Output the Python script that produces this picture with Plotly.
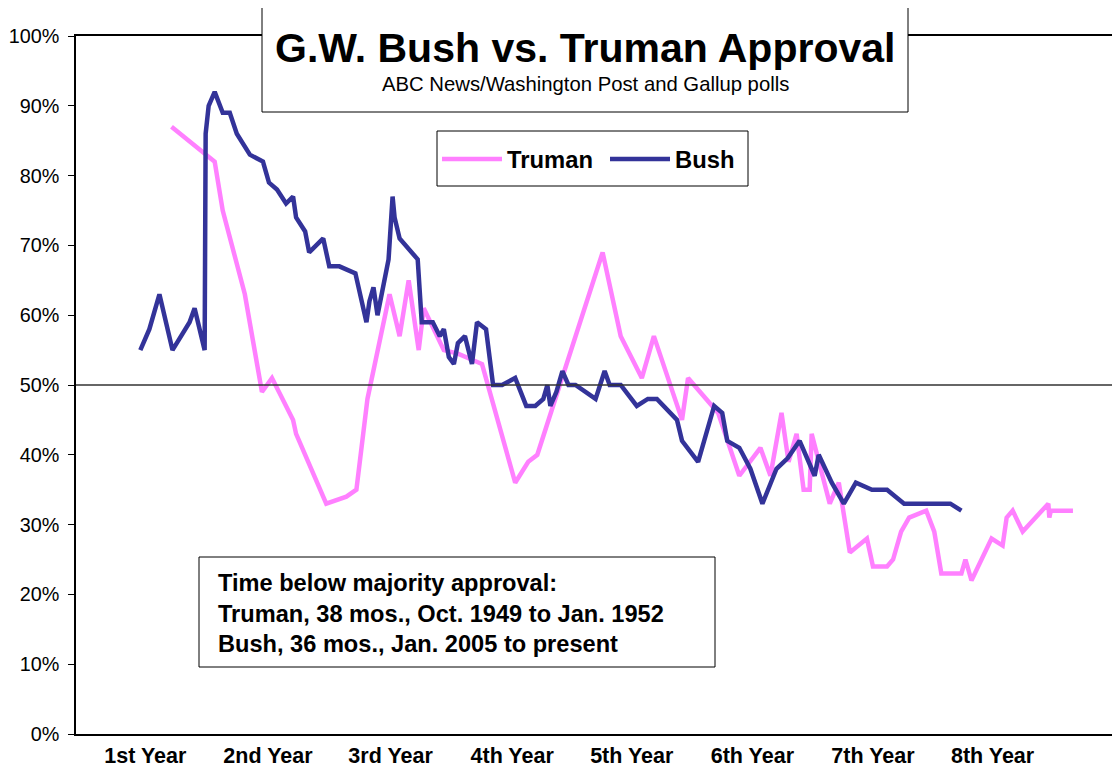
import plotly.graph_objects as go

# ---- data (x in months since start of term, y approval %) ----
bush_month = [6.4, 7.3, 8.3, 9.6, 11.3, 11.8, 12.8, 12.9, 13.2, 13.8, 14.6, 15.3, 16.0, 17.3,
              18.6, 19.2, 20.0, 20.9, 21.6, 21.9, 22.8, 23.2, 24.6, 25.2, 26.2, 27.8, 28.9,
              29.2, 29.6, 30.0, 31.1, 31.5, 31.7, 32.2, 34.0, 34.4, 35.5, 36.2, 36.6, 37.1,
              37.6, 38.0, 38.7, 39.4, 39.9, 40.8, 41.5, 42.4, 43.7, 44.8, 45.7, 46.5, 46.9,
              47.2, 47.8, 48.4, 49.0, 49.7, 51.7, 52.6, 53.1, 54.2, 55.8, 56.9, 57.8, 59.8,
              60.3, 61.9, 63.5, 64.3, 64.8, 66.0, 67.1, 68.3, 69.7, 70.8, 72.0, 73.5, 73.9,
              75.2, 76.4, 77.6, 79.2, 80.7, 82.4, 87.0, 88.1]
bush_approval = [55, 58, 63, 55, 59, 61, 55, 86, 90, 92, 89, 89, 86, 83,
                 82, 79, 78, 76, 77, 74, 72, 69, 71, 67, 67, 66, 59,
                 62, 64, 60, 68, 77, 74, 71, 68, 59, 59, 57, 58, 54,
                 53, 56, 57, 53, 59, 58, 50, 50, 51, 47, 47, 48, 50,
                 47, 49, 52, 50, 50, 48, 52, 50, 50, 47, 48, 48, 45,
                 42, 39, 47, 46, 42, 41, 38, 33, 38, 39.5, 42, 37, 40,
                 36, 33, 36, 35, 35, 33, 33, 32]

truman_month = [9.5, 13.8, 14.6, 16.8, 18.5, 19.5, 21.6, 21.9, 24.9, 26.9, 27.9, 29.0, 31.2,
                32.2, 33.1, 34.1, 34.6, 36.6, 38.0, 40.4, 43.7, 45.0, 45.9, 52.4, 54.2,
                56.3, 57.5, 60.3, 60.9, 63.9, 66.0, 68.1, 69.1, 70.2, 70.9, 71.7, 72.4,
                73.0, 73.2, 73.9, 75.0, 75.9, 77.0, 78.7, 79.3, 80.7, 81.3, 82.1, 82.9,
                84.6, 85.4, 86.1, 88.1, 88.5, 89.1, 91.1, 92.2, 92.6, 93.2, 94.2, 96.75,
                96.85, 97.0, 99.2]
truman_approval = [87, 82, 75, 63, 49, 51, 45, 43, 33, 34, 35, 48, 63,
                   57, 65, 55, 61, 55, 54.5, 53, 36, 39, 40, 69, 57,
                   51, 57, 45, 51, 46, 37, 41, 37, 46, 39, 43, 35,
                   35, 43, 39, 33, 36, 26, 28, 24, 24, 25, 29, 31,
                   32, 29, 23, 23, 25, 22, 28, 27, 31, 32, 29, 33,
                   31, 32, 32]

year_labels = ["1st Year", "2nd Year", "3rd Year", "4th Year",
               "5th Year", "6th Year", "7th Year", "8th Year"]
year_label_pos = [6.9, 19.1, 31.3, 43.4, 55.3, 67.3, 79.3, 91.2]
y_ticks = list(range(0, 101, 10))

FONT = "Liberation Sans, Arial, sans-serif"

fig = go.Figure()
fig.add_trace(go.Scatter(x=truman_month, y=truman_approval, mode="lines", name="Truman",
                         line=dict(color="#FF80FF", width=4.5)))
fig.add_trace(go.Scatter(x=bush_month, y=bush_approval, mode="lines", name="Bush",
                         line=dict(color="#333399", width=4.5)))

# page has an 8px body margin: the figure is 8px smaller and all reference
# pixel positions are shifted by 8px.
OFF = 8
W, H = 1120 - OFF, 769 - OFF
L, R, T, B = 76 - OFF, 0, 36 - OFF, 769 - 734
pw, ph = W - L - R, H - T - B


def px(xp):
    return (xp - OFF - L) / pw


def py(yp):
    return (H - B - (yp - OFF)) / ph


fig.update_layout(
    width=W, height=H,
    margin=dict(l=L, r=R, t=T, b=B, autoexpand=False),
    paper_bgcolor="white", plot_bgcolor="white",
    font=dict(family=FONT, color="black"),
    showlegend=True,
    legend=dict(orientation="h", x=px(437), y=py(137), xanchor="left", yanchor="top",
                borderwidth=0, bgcolor="rgba(0,0,0,0)",
                font=dict(size=23.8, family=FONT, color="black", weight="bold"),
                itemwidth=60, entrywidth=93),
    xaxis=dict(range=[0, pw / 10.05], showgrid=False, zeroline=False, automargin=False,
               showline=True, linecolor="black", linewidth=1.5, mirror=True,
               tickmode="array", tickvals=year_label_pos, ticktext=year_labels,
               ticks="", ticklabelstandoff=1,
               tickfont=dict(size=21.5, family=FONT, color="black", weight="bold")),
    yaxis=dict(range=[0, 100], showgrid=False, zeroline=False, automargin=False,
               showline=True, linecolor="black", linewidth=1.5,
               tickmode="array", tickvals=y_ticks, ticktext=[f"{v}%" for v in y_ticks],
               ticks="outside", ticklen=6, tickcolor="black", ticklabelstandoff=5,
               tickfont=dict(size=19.8, family=FONT, color="black")),
)

# 50% majority line
fig.add_shape(type="line", xref="paper", yref="y", x0=0, x1=1, y0=50, y1=50,
              line=dict(color="#333333", width=1.5), layer="above")

# legend frame
fig.add_shape(type="rect", xref="paper", yref="paper", x0=px(437), x1=px(748),
              y0=py(186), y1=py(131), line=dict(color="black", width=1),
              fillcolor="white", layer="below")

# title box
fig.add_shape(type="rect", xref="paper", yref="paper", x0=px(262), x1=px(908),
              y0=py(112), y1=py(7), line=dict(color="black", width=1),
              fillcolor="white", layer="above")
fig.add_annotation(xref="paper", yref="paper", x=px(585), y=py(48), showarrow=False,
                   text="<b>G.W. Bush vs. Truman Approval</b>",
                   font=dict(size=41, family=FONT, color="black"),
                   xanchor="center", yanchor="middle")
fig.add_annotation(xref="paper", yref="paper", x=px(585), y=py(84), showarrow=False,
                   text="ABC News/Washington Post and Gallup polls",
                   font=dict(size=20.3, family=FONT, color="black"),
                   xanchor="center", yanchor="middle")

# note box
fig.add_shape(type="rect", xref="paper", yref="paper", x0=px(199), x1=px(715),
              y0=py(667), y1=py(557), line=dict(color="black", width=1),
              fillcolor="white", layer="above")
fig.add_annotation(xref="paper", yref="paper", x=px(216), y=py(613), showarrow=False,
                   text="<b>Time below majority approval:<br>"
                        "Truman, 38 mos., Oct. 1949 to Jan. 1952<br>"
                        "Bush, 36 mos., Jan. 2005 to present</b>",
                   align="left", xanchor="left", yanchor="middle",
                   font=dict(size=23.6, family=FONT, color="black"))

fig.write_html("out.html")
